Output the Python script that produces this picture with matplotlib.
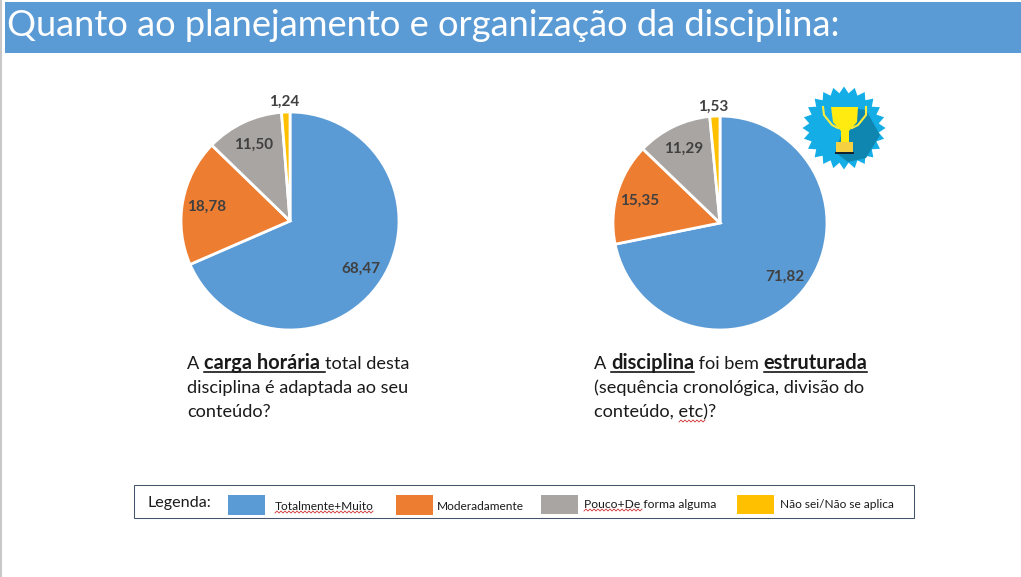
import numpy as np
from matplotlib import pyplot as plt
from matplotlib.patches import Polygon, Rectangle

W = 1021
H = 577

titulo = 'Quanto ao planejamento e organização da disciplina:'
categorias = ['Totalmente+Muito', 'Moderadamente', 'Pouco+De forma alguma', 'Não sei/Não se aplica']
cores = ['#5B9BD5', '#ED7D31', '#A9A5A3', '#FFC000']
valores1 = [68.47, 18.78, 11.50, 1.24]
valores2 = [71.82, 15.35, 11.29, 1.53]

plt.rcParams['font.family'] = ['Lato', 'DejaVu Sans']
fig = plt.figure(figsize=(W / 100, H / 100), dpi=100, facecolor='white')

# fundo em pixels
bg = fig.add_axes([0, 0, 1, 1])
bg.set_xlim(0, W)
bg.set_ylim(H, 0)
bg.axis('off')
bg.plot([0.5, 0.5], [0, H], color='#c8c8c8', lw=1.5)
bg.add_patch(Rectangle((5, 2), 1016, 51, color='#5B9BD5', lw=0))
bg.text(7, 25, titulo, color='white', fontsize=26.1, va='center')


def pizza(valores, cx, cy, r, r_fora):
    ax = fig.add_axes([(cx - r) / W, 1 - (cy + r) / H, 2 * r / W, 2 * r / H])
    wedges, _ = ax.pie(valores, colors=cores, startangle=90, counterclock=False, radius=1,
                       wedgeprops={'edgecolor': 'white', 'linewidth': 2})
    ax.set_xlim(-1, 1)
    ax.set_ylim(-1, 1)
    ax.patch.set_visible(False)
    for i, w in enumerate(wedges):
        ang = np.deg2rad((w.theta1 + w.theta2) / 2)
        d = r_fora if i == 3 else 0.78
        ax.text(d * np.cos(ang) - (0.015 if i == 3 else 0), d * np.sin(ang) - 0.01, f'{valores[i]:.2f}'.replace('.', ','),
                ha='center', va='center', fontsize=11, fontweight='bold', color='#404040',
                clip_on=False)


pizza(valores1, 290, 221, 109, 1.10)
pizza(valores2, 720, 223, 107, 1.10)


def linha(x, y, partes, fs=13.1):
    # escreve trechos normais/negrito/sublinhados em sequencia
    rend = fig.canvas.get_renderer()
    for txt, negrito, sub in partes:
        t = bg.text(x, y, txt, fontsize=14.45 if negrito else fs, color='#1a1a1a', va='baseline',
                    fontweight='bold' if negrito else 'normal')
        larg = t.get_window_extent(rend).width
        if sub:
            bg.plot([x, x + larg], [y + 2.5, y + 2.5], color='black', lw=1.1)
        x += larg


linha(187, 369, [('A ', False, False), ('carga horária ', True, True), ('total desta', False, False)])
linha(187, 393, [('disciplina é adaptada ao seu', False, False)])
linha(187, 417, [('conteúdo?', False, False)])
linha(594, 369, [('A ', False, False), ('disciplina', True, True), (' foi bem ', False, False), ('estruturada', True, True)])
linha(594, 393, [('(sequência cronológica, divisão do', False, False)])
linha(594, 417, [('conteúdo, etc)?', False, False)])

# legenda
bg.add_patch(Rectangle((134, 485), 780, 33, fc='white', ec='#44546A', lw=0.75))
bg.text(147, 503, 'Legenda:', fontsize=11.6, va='center', color='#1a1a1a')
xs_caixa = [228, 396, 541, 737]
xs_texto = [275, 437, 584, 780]
ys_texto = [506, 506, 504, 504]
for i in range(4):
    bg.add_patch(Rectangle((xs_caixa[i], 495), 37, 20 if i < 2 else 19, color=cores[i], lw=0))
    bg.text(xs_texto[i], ys_texto[i], categorias[i], fontsize=8.7 if i == 2 else 8.6, va='center', color='#1a1a1a')


def ondinha(x0, x1, y):
    # sublinhado do corretor ortografico
    xx = np.arange(x0, x1 + 1, 2)
    yy = y + np.where(np.arange(len(xx)) % 2 == 0, 1, -1)
    bg.plot(xx, yy, color='#d03030', lw=0.6)


ondinha(275, 374, 512)
ondinha(584, 642, 510)
ondinha(679, 705, 421)

# trofeu
cx, cy = 844, 128
n = 24
ang = np.linspace(0, 2 * np.pi, 2 * n, endpoint=False)
raio = np.where(np.arange(2 * n) % 2 == 0, 41.5, 35)
bg.add_patch(Polygon(np.c_[cx + raio * np.cos(ang), cy + raio * np.sin(ang)], color='#14ADE6', lw=0))
bg.add_patch(Polygon([(851, 108), (866, 110), (880, 135), (866, 158), (848, 162), (835, 152)], color='#0E86B0', lw=0))
bg.plot([823, 824, 832, 838], [107, 115, 125, 128], color='#FFEB3B', lw=1.5)
bg.plot([866, 866, 858, 852], [107, 115, 125, 128], color='#FFEB3B', lw=1.5)
bg.add_patch(Polygon([(831, 107), (858, 107), (857, 122), (849, 131), (849, 143), (841, 143), (841, 131), (833, 122)], color='#FFEB10', lw=0))
bg.add_patch(Rectangle((836, 142), 17, 10, color='#F5D040', lw=0))
bg.add_patch(Rectangle((835, 152), 19, 2, color='#123', lw=0))

fig.savefig('out.png', dpi=100)
